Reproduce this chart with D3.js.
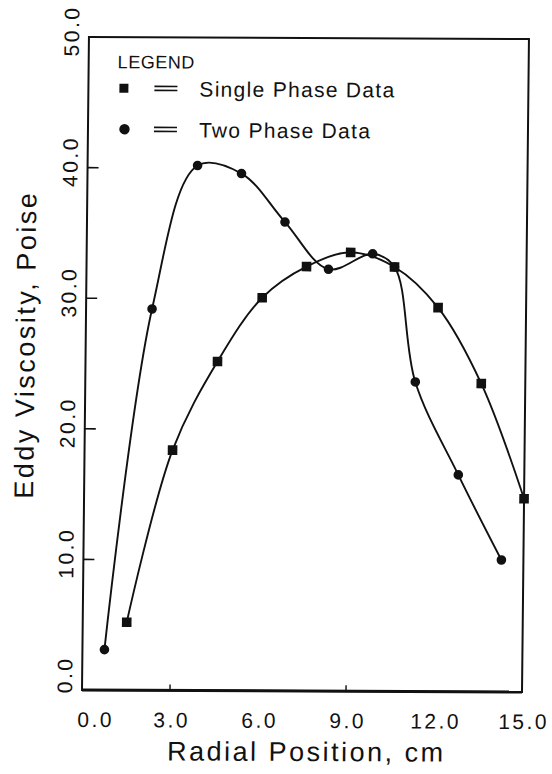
<!DOCTYPE html>
<html>
<head>
<meta charset="utf-8">
<script src="https://cdn.jsdelivr.net/npm/d3@7"></script>
<style>
  html, body { margin: 0; padding: 0; background: #fff; }
  svg { display: block; }
  text { font-family: "Liberation Sans", Arial, Helvetica, sans-serif; fill: #111; }
</style>
</head>
<body>
<svg id="chart" width="552" height="774"></svg>
<script>
// Radial position (cm) and eddy viscosity (poise)
const singleX = [1.5, 3.0, 4.5, 6.0, 7.5, 9.0, 10.5, 12.0, 13.5, 15.0];
const singleY = [5.2, 18.4, 25.2, 30.1, 32.5, 33.6, 32.5, 29.4, 23.6, 14.8];
const twoX = [0.75, 2.25, 3.75, 5.25, 6.75, 8.25, 9.75, 10.5, 11.25, 12.75, 14.25];
const twoY = [3.1, 29.2, 40.2, 39.6, 35.9, 32.3, 33.5, 32.5, 23.7, 16.6, 10.1];
const xTicks = [0, 3, 6, 9, 12, 15];
const yTicks = [0, 10, 20, 30, 40, 50];
const xMarks = [3, 9];
const yMarks = [10, 20, 30, 40];
const legendItems = ["Single Phase Data", "Two Phase Data"];

const svg = d3.select("#chart");
const L = 82, R = 522, T = 37, B = 690;

const x = d3.scaleLinear().domain([0, 15]).range([L, R]);
const y = d3.scaleLinear().domain([0, 50]).range([B, T]);

// slight skew of the whole figure
const g = svg.append("g")
  .attr("transform", `translate(${L},${B}) skewY(0.26) skewX(-0.61) translate(${-L},${-B})`);

// frame
g.append("rect").attr("x", L).attr("y", T).attr("width", R - L).attr("height", B - T)
  .attr("fill", "none").attr("stroke", "#111").attr("stroke-width", 2);
g.append("line").attr("x1", L).attr("x2", R).attr("y1", B).attr("y2", B)
  .attr("stroke", "#111").attr("stroke-width", 3);

// inward tick marks
g.selectAll(".ytk").data(yMarks).join("line")
  .attr("x1", L).attr("x2", L + 11).attr("y1", d => y(d)).attr("y2", d => y(d))
  .attr("stroke", "#111").attr("stroke-width", 1.6);
g.selectAll(".xtk").data(xMarks).join("line")
  .attr("x1", d => x(d)).attr("x2", d => x(d)).attr("y1", B).attr("y2", B - 6)
  .attr("stroke", "#111").attr("stroke-width", 1.4);

// x tick labels
g.selectAll(".xl").data(xTicks).join("text")
  .attr("x", d => x(d) + (d === 0 ? 14 : 2))
  .attr("y", 727)
  .attr("text-anchor", "middle")
  .attr("font-size", 21).attr("letter-spacing", 2.5)
  .text(d => d3.format(".1f")(d));

// y tick labels (rotated)
g.selectAll(".yl").data(yTicks).join("text")
  .attr("transform", d => `translate(72,${y(d) - (d === 0 ? 15 : 6)}) rotate(-90)`)
  .attr("text-anchor", "middle")
  .attr("font-size", 21).attr("letter-spacing", 2.5)
  .text(d => d3.format(".1f")(d));

// axis titles
g.append("text").attr("x", 307).attr("y", 760).attr("text-anchor", "middle")
  .attr("font-size", 27).attr("letter-spacing", 2.5).text("Radial Position, cm");
g.append("text").attr("transform", "translate(31,345) rotate(-90)").attr("text-anchor", "middle")
  .attr("font-size", 27).attr("letter-spacing", 2.5).text("Eddy Viscosity, Poise");

// curves
const line = d3.line().curve(d3.curveCatmullRom.alpha(0.5));
const singlePts = singleX.map((v, i) => [x(v), y(singleY[i])]);
const twoPts = twoX.map((v, i) => [x(v), y(twoY[i])]);
g.append("path").attr("d", line(twoPts)).attr("fill", "none").attr("stroke", "#111").attr("stroke-width", 1.9);
g.append("path").attr("d", line(singlePts)).attr("fill", "none").attr("stroke", "#111").attr("stroke-width", 1.9);

// markers
g.selectAll(".c").data(twoPts).join("circle")
  .attr("cx", d => d[0]).attr("cy", d => d[1]).attr("r", 4.8).attr("fill", "#111");
g.selectAll(".s").data(singlePts).join("rect")
  .attr("x", d => d[0] - 4.8).attr("y", d => d[1] - 4.8).attr("width", 9.6).attr("height", 9.6)
  .attr("fill", "#111");

// legend
const lg = g.append("g");
lg.append("text").attr("x", 111).attr("y", 68).attr("font-size", 18).attr("letter-spacing", 0.5).text("LEGEND");
legendItems.forEach((name, i) => {
  const cy = 88 + i * 41;
  if (i === 0) {
    lg.append("rect").attr("x", 113).attr("y", cy - 4.5).attr("width", 9).attr("height", 9).attr("fill", "#111");
  } else {
    lg.append("circle").attr("cx", 118.5).attr("cy", cy).attr("r", 5.2).attr("fill", "#111");
  }
  [-2, 2].forEach(off => lg.append("line")
    .attr("x1", 148).attr("x2", 171).attr("y1", cy + off).attr("y2", cy + off)
    .attr("stroke", "#111").attr("stroke-width", 1.6));
  lg.append("text").attr("x", 193).attr("y", cy + 8).attr("font-size", 21).attr("letter-spacing", 1.3).text(name);
});
</script>
</body>
</html>
